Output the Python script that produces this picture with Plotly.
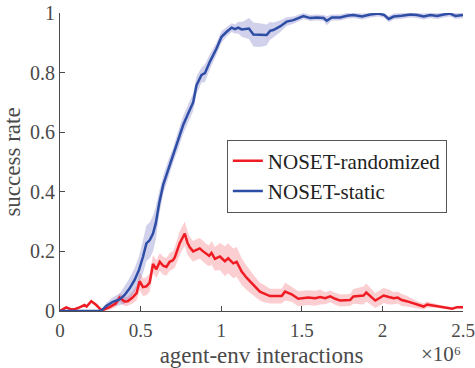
import numpy as np
import plotly.graph_objects as go

# x in units of 1e6 agent-env interactions
red_x = [0, 0.02, 0.038, 0.07, 0.095, 0.121, 0.152, 0.165, 0.194, 0.225,
         0.256, 0.277, 0.308, 0.345, 0.37, 0.40, 0.42, 0.45, 0.475, 0.494,
         0.515, 0.536, 0.556, 0.577, 0.598, 0.619, 0.64, 0.66, 0.68, 0.70,
         0.712, 0.743, 0.774, 0.79, 0.805, 0.826, 0.846, 0.867, 0.888, 0.909,
         0.925, 0.94, 0.961, 0.992, 1.023, 1.043, 1.075, 1.096, 1.127, 1.16,
         1.2, 1.24, 1.26, 1.303, 1.34, 1.375, 1.396, 1.437, 1.478, 1.54,
         1.583, 1.614, 1.645, 1.676, 1.707, 1.738, 1.8, 1.82, 1.883, 1.9,
         1.956, 2.008, 2.04, 2.07, 2.095, 2.12, 2.15, 2.184, 2.22, 2.256,
         2.277, 2.31, 2.34, 2.39, 2.433, 2.464, 2.5]
red_mean = [0, 0.005, 0.012, 0.005, 0.007, 0.012, 0.02, 0.015, 0.033, 0.02,
            0.003, 0.006, 0.013, 0.025, 0.045, 0.032, 0.033, 0.045, 0.06, 0.10,
            0.08, 0.083, 0.095, 0.158, 0.14, 0.165, 0.152, 0.148, 0.165, 0.17,
            0.18, 0.228, 0.26, 0.23, 0.214, 0.2, 0.206, 0.21, 0.2, 0.19,
            0.185, 0.195, 0.175, 0.183, 0.167, 0.177, 0.16, 0.165, 0.132, 0.11,
            0.087, 0.065, 0.06, 0.05, 0.05, 0.05, 0.065, 0.056, 0.041, 0.045,
            0.043, 0.047, 0.043, 0.049, 0.041, 0.035, 0.037, 0.049, 0.052, 0.062,
            0.035, 0.052, 0.047, 0.043, 0.045, 0.037, 0.033, 0.027, 0.02, 0.015,
            0.022, 0.019, 0.017, 0.012, 0.008, 0.013, 0.013]
red_spread = [0.003] * 11 + [0.008, 0.01, 0.012] + \
             [0.015, 0.015, 0.015, 0.02, 0.025, 0.03] + [0.03] * 10 + \
             [0.035, 0.04, 0.04, 0.04, 0.035, 0.035, 0.035, 0.035, 0.035, 0.035] + \
             [0.035, 0.04, 0.04, 0.045, 0.05, 0.05, 0.05, 0.05, 0.045, 0.04] + \
             [0.035, 0.03, 0.03, 0.025, 0.025, 0.025, 0.03, 0.025, 0.025, 0.025] + \
             [0.025, 0.025, 0.02, 0.02, 0.02, 0.02, 0.02, 0.025, 0.03, 0.03] + \
             [0.025, 0.025, 0.025, 0.02, 0.02, 0.02, 0.018, 0.015, 0.012, 0.01] + \
             [0.01, 0.008, 0.006, 0.005, 0.004, 0.005, 0.005]

blue_x = [0, 0.245, 0.26, 0.287, 0.328, 0.37, 0.401, 0.432, 0.463, 0.49,
          0.515, 0.536, 0.557, 0.577, 0.594, 0.615, 0.64, 0.67, 0.702, 0.733,
          0.764, 0.795, 0.826, 0.847, 0.878, 0.899, 0.93, 0.971, 1.002, 1.034,
          1.065, 1.085, 1.106, 1.127, 1.15, 1.172, 1.2, 1.24, 1.282, 1.303,
          1.323, 1.365, 1.406, 1.448, 1.51, 1.552, 1.594, 1.635, 1.655, 1.686,
          1.738, 1.78, 1.82, 1.873, 1.925, 1.977, 2.012, 2.039, 2.07, 2.12,
          2.174, 2.215, 2.256, 2.298, 2.34, 2.38, 2.42, 2.453, 2.5]
blue_mean = [0, 0, 0.003, 0.017, 0.031, 0.039, 0.054, 0.076, 0.104, 0.138,
             0.182, 0.227, 0.238, 0.26, 0.294, 0.361, 0.423, 0.473, 0.523, 0.574,
             0.624, 0.663, 0.70, 0.758, 0.792, 0.798, 0.837, 0.881, 0.92, 0.937,
             0.951, 0.946, 0.951, 0.945, 0.946, 0.948, 0.928, 0.926, 0.926, 0.94,
             0.943, 0.955, 0.971, 0.976, 0.99, 0.983, 0.985, 0.983, 0.974, 0.985,
             0.985, 0.991, 0.993, 0.988, 0.995, 0.998, 0.993, 0.98, 0.988, 0.991,
             0.995, 0.993, 0.988, 0.993, 0.99, 0.995, 0.998, 0.99, 0.993]
blue_spread = [0, 0, 0.003] + [0.01, 0.015, 0.02] + [0.03, 0.035, 0.04, 0.045] + \
              [0.055, 0.06, 0.06, 0.06, 0.055, 0.04] + [0.03, 0.03, 0.025, 0.03] + \
              [0.03, 0.03, 0.03, 0.03, 0.025, 0.03, 0.025] + \
              [0.02, 0.02, 0.015, 0.015, 0.015] + \
              [0.02, 0.025, 0.03, 0.035, 0.04, 0.04, 0.035, 0.03] + \
              [0.025, 0.02, 0.015, 0.012] + [0.01, 0.01, 0.01, 0.01, 0.015] + [0.01] * 20

x_ticks = [0, 0.5, 1, 1.5, 2, 2.5]
x_tick_text = ["0", "0.5", "1", "1.5", "2", "2.5"]
y_ticks = [0, 0.2, 0.4, 0.6, 0.8, 1]
y_tick_text = ["0", "0.2", "0.4", "0.6", "0.8", "1"]

RED = "rgb(240,28,36)"
BLUE = "rgb(46,78,166)"
RED_FILL = "rgba(240,60,70,0.25)"
BLUE_FILL = "rgba(70,70,180,0.25)"
FONT = "Liberation Serif"
GREY = "#4a4a4a"


def band(x, m, s, fill):
    m = np.array(m)
    s = np.array(s)
    lo = np.clip(m - s, 0, 1)
    hi = np.clip(m + s, 0, 1)
    xs = list(x) + list(x)[::-1]
    ys = list(hi) + list(lo)[::-1]
    return go.Scatter(x=xs, y=ys, fill="toself", fillcolor=fill, mode="none",
                      line=dict(width=0), showlegend=False, hoverinfo="skip")


fig = go.Figure()
fig.add_trace(band(red_x, red_mean, red_spread, RED_FILL))
fig.add_trace(band(blue_x, blue_mean, blue_spread, BLUE_FILL))
fig.add_trace(go.Scatter(x=red_x, y=red_mean, mode="lines", name="NOSET-randomized",
                         line=dict(color=RED, width=2.5)))
fig.add_trace(go.Scatter(x=blue_x, y=blue_mean, mode="lines", name="NOSET-static",
                         line=dict(color=BLUE, width=2.5)))

fig.update_layout(
    width=475, height=368,
    margin=dict(l=60, r=12, t=13, b=57),
    paper_bgcolor="white", plot_bgcolor="white",
    font=dict(family=FONT, size=21, color=GREY),
    showlegend=True,
    legend=dict(x=0.414, y=0.575, xanchor="left", yanchor="top",
                bgcolor="white", bordercolor="#555", borderwidth=1,
                font=dict(family=FONT, size=21, color="#222"),
                tracegroupgap=0, itemwidth=30),
    xaxis=dict(range=[0, 2.5], tickvals=x_ticks, ticktext=x_tick_text,
               showgrid=False, zeroline=False, showline=True, linecolor=GREY,
               linewidth=1, ticks="inside", ticklen=5, tickcolor=GREY,
               ticklabeloverflow="allow", ticklabelstandoff=2, automargin=False,
               tickfont=dict(family=FONT, size=19, color=GREY),
               title=dict(text="agent-env interactions", standoff=10,
                          font=dict(family=FONT, size=23, color=GREY))),
    yaxis=dict(range=[0, 1], tickvals=y_ticks, ticktext=y_tick_text,
               showgrid=False, zeroline=False, showline=True, linecolor=GREY,
               linewidth=1, ticks="inside", ticklen=5, tickcolor=GREY,
               automargin=False,
               tickfont=dict(family=FONT, size=20, color=GREY),
               title=dict(text="success rate", standoff=4,
                          font=dict(family=FONT, size=23, color=GREY))),
    annotations=[dict(text="×10⁶", x=1.0, y=-0.192, xref="paper", yref="paper",
                      xanchor="right", yanchor="bottom", showarrow=False,
                      font=dict(family=FONT, size=21, color=GREY))],
)

fig.write_html("out.html")
